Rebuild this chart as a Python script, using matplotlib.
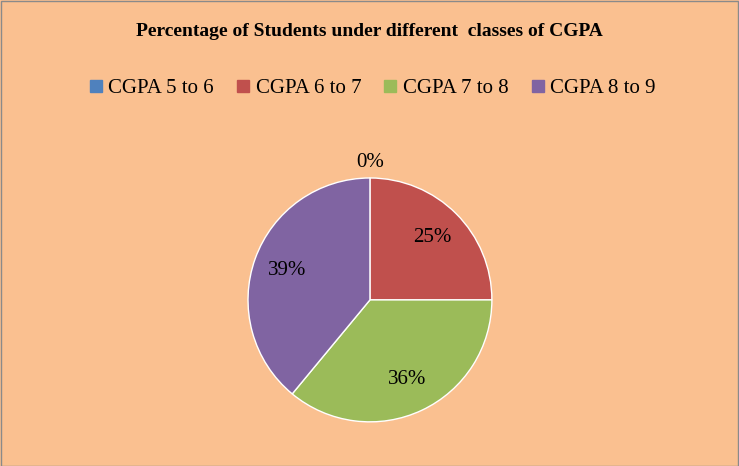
import matplotlib.pyplot as plt
from matplotlib.lines import Line2D

labels = ['CGPA 5 to 6', 'CGPA 6 to 7', 'CGPA 7 to 8', 'CGPA 8 to 9']
values = [0, 25, 36, 39]
colors = ['#4F81BD', '#C0504D', '#9BBB59', '#8064A2']
bg = '#FAC090'

plt.rcParams['font.family'] = 'Liberation Serif'

fig = plt.figure(figsize=(7.39, 4.66), dpi=100, facecolor=bg)
fig.patches.append(plt.Rectangle((0.001, 0.001), 0.997, 0.997, transform=fig.transFigure,
                                 fill=False, edgecolor='#8a8a8a', linewidth=1))

ax = fig.add_axes([0.3356, 0.0944, 0.330, 0.524])
ax.set_facecolor(bg)
wedges, texts, autotexts = ax.pie(values, colors=colors, startangle=90, counterclock=False,
                                  autopct='%d%%', pctdistance=0.72,
                                  wedgeprops=dict(edgecolor='white', linewidth=1),
                                  textprops=dict(fontsize=15))
autotexts[0].set_position((0, 1.13))
for t in autotexts:
    t.set_clip_on(False)
ax.set_xlim(-1, 1)
ax.set_ylim(-1, 1)
ax.set_aspect('equal')

fig.text(0.5, 0.933, 'Percentage of Students under different  classes of CGPA',
         ha='center', va='center', fontsize=14, fontweight='bold')

handles = [Line2D([], [], marker='s', linestyle='', markersize=8, color=c) for c in colors]
fig.legend(handles, labels, loc='center', bbox_to_anchor=(0.5, 0.81), ncol=4,
           frameon=False, fontsize=15, handletextpad=0.0, columnspacing=0.8,
           handlelength=1.2)

fig.savefig('out.png', dpi=100, facecolor=bg)
